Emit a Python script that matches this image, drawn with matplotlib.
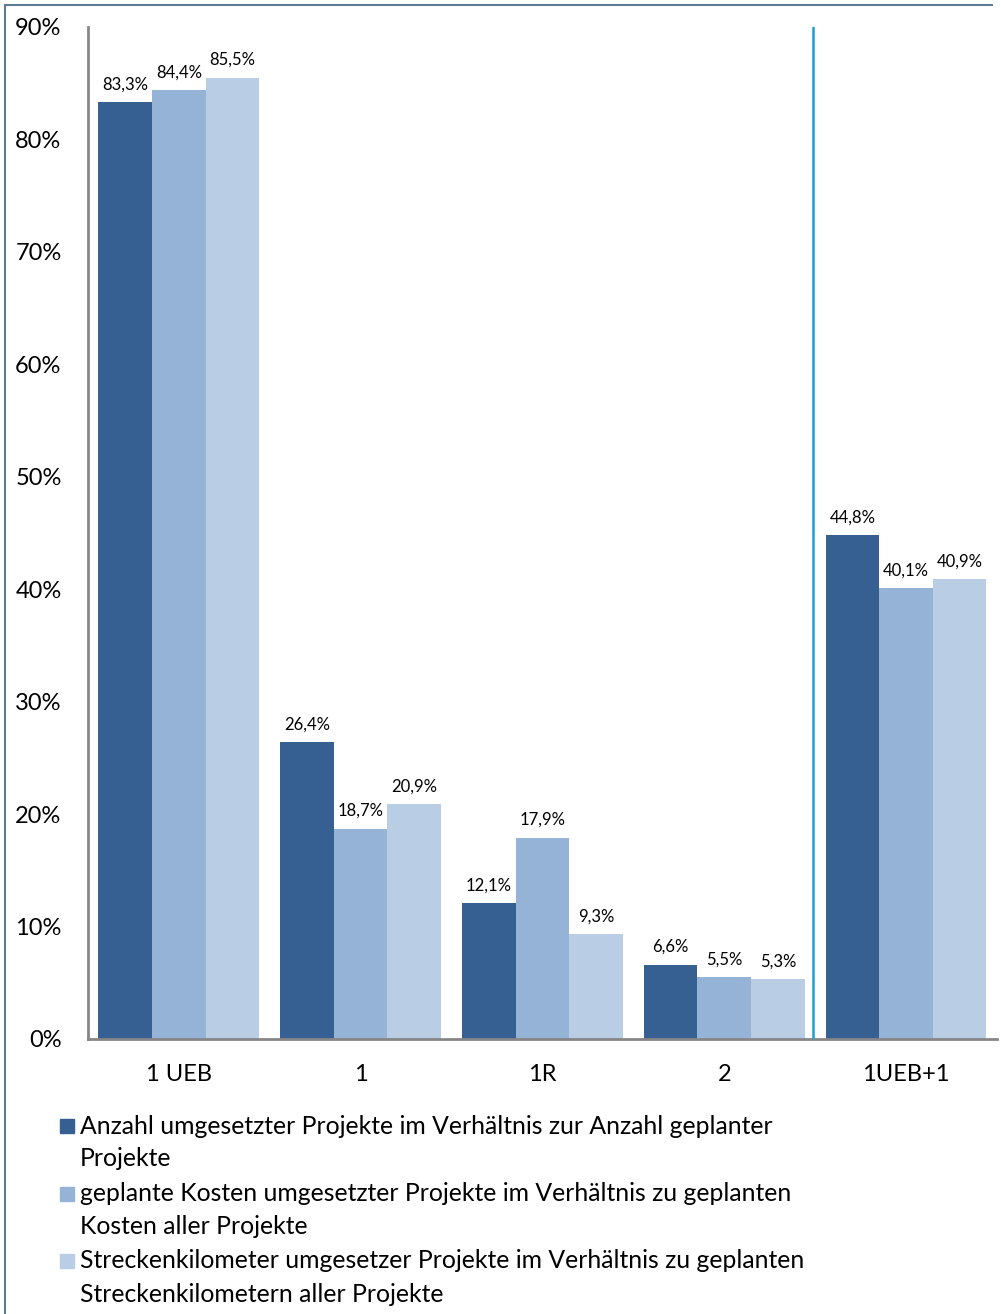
import numpy as np
import matplotlib.pyplot as plt
from matplotlib.patches import Rectangle
from matplotlib.lines import Line2D

plt.rcParams['font.family'] = ['Lato', 'DejaVu Sans']

# Daten
kategorien = ["1 UEB", "1", "1R", "2", "1UEB+1"]
anzahl = [83.3, 26.4, 12.1, 6.6, 44.8]
kosten = [84.4, 18.7, 17.9, 5.5, 40.1]
strecke = [85.5, 20.9, 9.3, 5.3, 40.9]
labels = [
    ["Anzahl umgesetzter Projekte im Verhältnis zur Anzahl geplanter", "Projekte"],
    ["geplante Kosten umgesetzter Projekte im Verhältnis zu geplanten", "Kosten aller Projekte"],
    ["Streckenkilometer umgesetzer Projekte im Verhältnis zu geplanten",
     "Streckenkilometern aller Projekte"],
]
farben = ["#366092", "#95b3d7", "#b9cde5"]

fig = plt.figure(figsize=(10.01, 13.14), dpi=100)
ax = fig.add_axes([0.0879, 0.2093, 0.908, 0.7702])

x = np.arange(len(kategorien))
w = 0.295
for i, werte in enumerate([anzahl, kosten, strecke]):
    bars = ax.bar(x + (i - 1) * w, werte, width=w, color=farben[i], zorder=2)
    ax.bar_label(bars, labels=[f"{v:.1f}%".replace(".", ",") for v in werte],
                 padding=7, fontsize=12)

# Trennlinie vor 1UEB+1
ax.axvline(3.488, color="#1aa0d8", lw=1.8, zorder=3)

ax.set_xlim(-0.5, 4.5)
ax.set_ylim(0, 90)
ax.set_yticks(np.arange(0, 91, 10))
ax.set_yticklabels([f"{v}%" for v in range(0, 91, 10)], fontsize=17)
ax.set_xticks(x)
ax.set_xticklabels(kategorien, fontsize=17)
ax.tick_params(axis="y", length=0, pad=19)
ax.tick_params(axis="x", length=0, pad=18)
for s in ["top", "right"]:
    ax.spines[s].set_visible(False)
for s in ["left", "bottom"]:
    ax.spines[s].set_color("#868686")
    ax.spines[s].set_linewidth(2)

# Legende
H = 1314.0
W = 1001.0
y0 = 1126
for i, zeilen in enumerate(labels):
    yc = y0 + i * 67.5
    fig.patches.append(Rectangle((60 / W, 1 - (yc + 7) / H), 14 / W, 14 / H,
                                 transform=fig.transFigure, color=farben[i]))
    for j, z in enumerate(zeilen):
        fig.text(80 / W, 1 - (yc + j * 33) / H, z, fontsize=17.8, va="center", ha="left")

# Rahmen
fig.add_artist(Line2D([5 / W, 992 / W], [1 - 5 / H, 1 - 5 / H], color="#5f7a93", lw=1.5,
                      transform=fig.transFigure))
fig.add_artist(Line2D([5 / W, 5 / W], [0, 1 - 5 / H], color="#5f7a93", lw=1.5,
                      transform=fig.transFigure))

fig.savefig("out.png", dpi=100)
